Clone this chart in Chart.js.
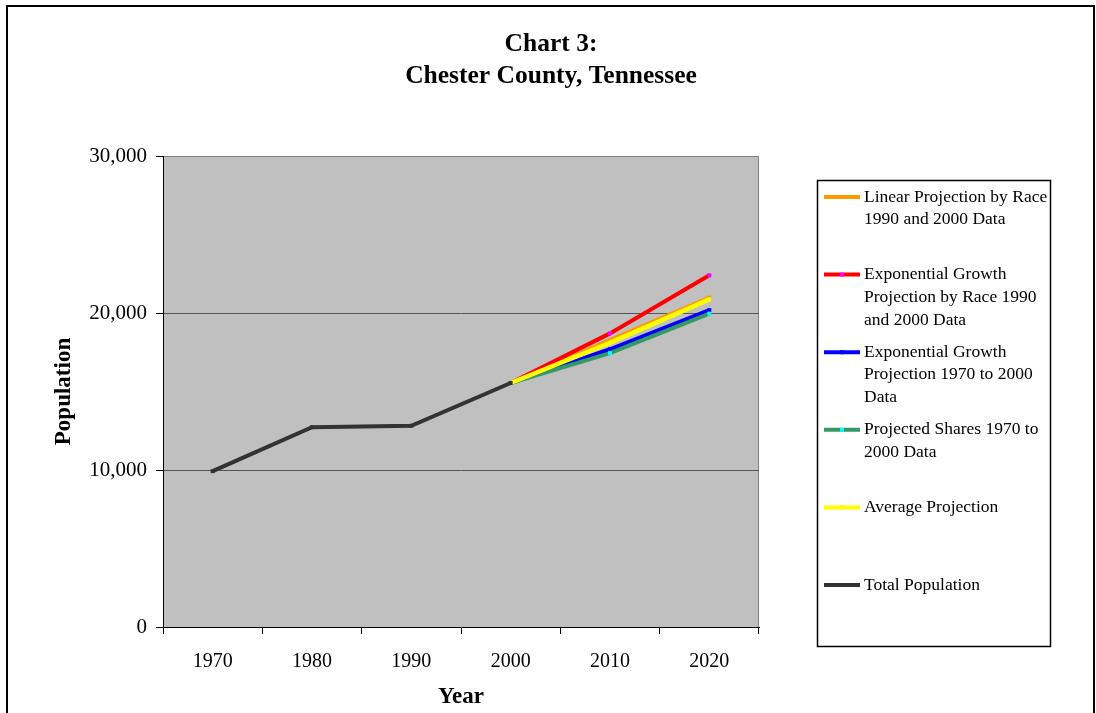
<!DOCTYPE html>
<html>
<head>
<meta charset="utf-8">
<script src="https://cdn.jsdelivr.net/npm/chart.js@4.4.0/dist/chart.umd.min.js"></script>
<style>
  html, body { margin: 0; padding: 0; background: #fff; }
  #wrap { width: 1096px; height: 713px; }
</style>
</head>
<body>
<div id="wrap"><canvas id="grafico" width="1096" height="713"></canvas></div>
<script>
const years = ["1970", "1980", "1990", "2000", "2010", "2020"];
const linearRace = [null, null, null, 15540, 18270, 20980];
const expRace = [null, null, null, 15540, 18700, 22400];
const exp7000 = [null, null, null, 15540, 17690, 20180];
const shares = [null, null, null, 15540, 17440, 19960];
const average = [null, null, null, 15540, 18100, 20870];
const totalPop = [9927, 12727, 12819, 15540, null, null];

const legendLines = [
  ["Linear Projection by Race", "1990 and 2000 Data"],
  ["Exponential Growth", "Projection by Race 1990", "and 2000 Data"],
  ["Exponential Growth", "Projection 1970 to 2000", "Data"],
  ["Projected Shares 1970 to", "2000 Data"],
  ["Average Projection"],
  ["Total Population"],
];

const serif = '"Liberation Serif", "Times New Roman", serif';

function serie(i, data, color, marker, width) {
  return {
    label: legendLines[i].join(" "),
    data: data,
    borderColor: color,
    backgroundColor: color,
    borderWidth: width,
    pointStyle: "rect",
    pointRadius: 2.8,
    pointBackgroundColor: marker,
    pointBorderColor: marker,
    pointBorderWidth: 0,
    tension: 0,
    spanGaps: false,
    order: 5 - i,
  };
}

// fundo, moldura, titulo e legenda
const moldura = {
  id: "moldura",
  beforeDraw(chart) {
    const ctx = chart.ctx;
    const a = chart.chartArea;
    ctx.save();
    ctx.fillStyle = "#fff";
    ctx.fillRect(0, 0, chart.width, chart.height);
    ctx.strokeStyle = "#000";
    ctx.lineWidth = 2;
    ctx.strokeRect(7, 6, 1087, 760);
    ctx.fillStyle = "#C0C0C0";
    ctx.fillRect(a.left, a.top, a.right - a.left, a.bottom - a.top);
    ctx.strokeStyle = "#808080";
    ctx.lineWidth = 1;
    ctx.beginPath();
    ctx.moveTo(a.left, a.top + 0.5);
    ctx.lineTo(a.right - 0.5, a.top + 0.5);
    ctx.lineTo(a.right - 0.5, a.bottom);
    ctx.stroke();

    ctx.fillStyle = "#000";
    ctx.font = "bold 25.5px " + serif;
    ctx.textAlign = "center";
    ctx.textBaseline = "alphabetic";
    ctx.fillText("Chart 3:", 551, 51);
    ctx.fillText("Chester County, Tennessee", 551, 83);
    ctx.restore();
  },
  afterDraw(chart) {
    const ctx = chart.ctx;
    ctx.save();
    ctx.strokeStyle = "#000";
    ctx.lineWidth = 1.5;
    ctx.strokeRect(817.5, 180.5, 233, 466);
    ctx.font = "17.5px " + serif;
    ctx.textAlign = "left";
    ctx.textBaseline = "middle";
    chart.data.datasets.forEach((ds, i) => {
      const y = 197 + i * 77.6;
      ctx.strokeStyle = ds.borderColor;
      ctx.lineWidth = 4;
      ctx.beginPath();
      ctx.moveTo(824, y);
      ctx.lineTo(860, y);
      ctx.stroke();
      ctx.fillStyle = ds.pointBackgroundColor;
      ctx.fillRect(840, y - 2, 4, 4);
      ctx.fillStyle = "#000";
      legendLines[i].forEach((t, k) => ctx.fillText(t, 864, y + k * 22.7));
    });
    ctx.restore();
  },
};

new Chart(document.getElementById("grafico"), {
  type: "line",
  data: {
    labels: years,
    datasets: [
      serie(0, linearRace, "#FF9900", "#FF9900", 4),
      serie(1, expRace, "#FF0000", "#FF00FF", 4),
      serie(2, exp7000, "#0000FF", "#0000FF", 4),
      serie(3, shares, "#339966", "#00FFFF", 4),
      serie(4, average, "#FFFF00", "#FFFF00", 4.5),
      serie(5, totalPop, "#333333", "#333333", 4),
    ],
  },
  options: {
    responsive: false,
    animation: false,
    layout: { padding: { top: 156, right: 337, bottom: 0, left: 10 } },
    plugins: {
      legend: { display: false },
      title: { display: false },
      tooltip: { enabled: false },
    },
    scales: {
      x: {
        offset: true,
        afterFit: (s) => { s.height = 86; },
        grid: { offset: true, drawOnChartArea: false, tickLength: 7, color: "#000" },
        border: { color: "#000", width: 1 },
        ticks: { color: "#000", padding: 16, font: { family: serif, size: 20 } },
        title: {
          display: true, text: "Year", color: "#000",
          padding: { top: 0, bottom: 2 },
          font: { family: serif, size: 23, weight: "bold" },
        },
      },
      y: {
        min: 0,
        max: 30000,
        afterFit: (s) => { s.width = 153; },
        grid: {
          color: (c) => (c.tick && (c.tick.value === 0 || c.tick.value === 30000)) ? "rgba(0,0,0,0)" : "#555",
          tickColor: "#000",
          tickLength: 7,
        },
        border: { color: "#000", width: 1 },
        ticks: { stepSize: 10000, color: "#000", padding: 9, font: { family: serif, size: 21 } },
        title: {
          display: true, text: "Population", color: "#000",
          padding: { top: 40, bottom: 0 },
          font: { family: serif, size: 23, weight: "bold" },
        },
      },
    },
  },
  plugins: [moldura],
});
</script>
</body>
</html>
